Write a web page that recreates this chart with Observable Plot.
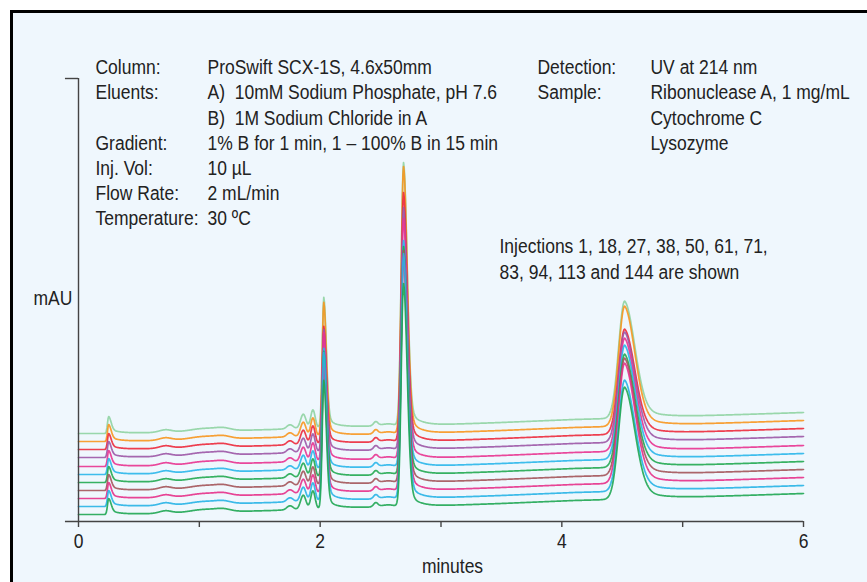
<!DOCTYPE html>
<html><head><meta charset="utf-8">
<script src="https://cdn.jsdelivr.net/npm/d3@7"></script>
<script src="https://cdn.jsdelivr.net/npm/@observablehq/plot@0.6"></script>
<style>
html,body{margin:0;padding:0;background:#fff;}
#wrap{position:relative;width:867px;height:582px;overflow:hidden;}
#panel{position:absolute;left:10px;top:10px;right:-10px;bottom:-10px;border-top:3px solid #000;border-left:3px solid #000;background:#eff7fd;}
#chart{position:absolute;left:0;top:0;}
</style></head><body>
<div id="wrap"><div id="panel"></div><div id="chart"></div></div>
<script>
// ---------- data ----------
// stacked traces, index 0 = lowest trace
const traceColors  = ["#1fa653","#27b2e6","#e6308a","#a3545a","#22a851","#2ab6ea","#e83390","#9c57a6","#ec2a3c","#f7961f","#8fd3a2"];
const traceOffsets = [7, 15, 23, 31, 39, 47, 55, 64, 72, 80, 88];          // mAU at t = 0
// baseline drift (shared) : minutes -> mAU
const driftTimes  = [0, 0.3, 1.0, 1.6, 2.2, 2.8, 3.5, 4.1, 5.0, 6.0];
const driftValues = [0, 0,   2,   4,   7,   8,   11,  14,  17,  21];
// main peaks: void, Ribonuclease A, Cytochrome C, Lysozyme
const peakNames  = ["void", "Ribonuclease A", "Cytochrome C", "Lysozyme"];
const peakTimes  = [0.25, 2.03, 2.69, 4.52];
const peakSigmaL = [0.010, 0.013, 0.019, 0.05];
const peakSigmaR = [0.020, 0.021, 0.030, 0.085];
const peakTail   = [0.30, 0.12, 0.10, 0.15];
const peakTau    = [0.08, 0.06, 0.08, 0.16];
const voidHeights      = [16, 16, 16, 16, 16, 16, 16, 16, 16, 17, 17];
const ribonucleaseHts  = [128, 148, 125, 122, 125, 120, 128, 122, 117, 133, 130];
const cytochromeHts    = [223, 245, 235, 232, 228, 226, 240, 242, 249, 267, 263];
const lysozymeHts      = [112, 111, 120, 117, 113, 114, 113, 110, 105, 120, 117];
// minor features (shared by all traces)
const minorTimes   = [0.72, 1.05, 1.20, 1.75, 1.86, 1.94, 2.46, 2.56];
const minorSigmas  = [0.05, 0.12, 0.06, 0.025, 0.022, 0.018, 0.018, 0.06];
const minorHeights = [2.5, 3, 2, 4, 14, 18, 4, 2];
// axis
const xTicks = [0, 1, 2, 3, 4, 5, 6];
// text
const leftLabels  = ["Column:", "Eluents:", "", "Gradient:", "Inj. Vol:", "Flow Rate:", "Temperature:"];
const leftValues  = ["ProSwift SCX-1S, 4.6x50mm", "A)  10mM Sodium Phosphate, pH 7.6", "B)  1M Sodium Chloride in A", "1% B for 1 min, 1 – 100% B in 15 min", "10 µL", "2 mL/min", "30 ºC"];
const rightLabels = ["Detection:", "Sample:"];
const rightValues = ["UV at 214 nm", "Ribonuclease A, 1 mg/mL", "Cytochrome C", "Lysozyme"];
const noteLines   = ["Injections 1, 18, 27, 38, 50, 61, 71,", "83, 94, 113 and 144 are shown"];

// ---------- build ----------
const heightsByPeak = [voidHeights, ribonucleaseHts, cytochromeHts, lysozymeHts];
function drift(t){
  for (let k=1;k<driftTimes.length;k++){
    if (t<=driftTimes[k]){const a=driftTimes[k-1],b=driftTimes[k];return driftValues[k-1]+(driftValues[k]-driftValues[k-1])*(t-a)/(b-a);}
  }
  return driftValues[driftValues.length-1];
}
function peakShape(t,p){
  const t0=peakTimes[p], d=t-t0;
  if (d<0) return Math.exp(-0.5*(d/peakSigmaL[p])**2);
  const f=peakTail[p];
  return (1-f)*Math.exp(-0.5*(d/peakSigmaR[p])**2)+f*Math.exp(-d/peakTau[p]);
}
const rows=[];
for (let i=traceColors.length-1;i>=0;i--){
  for (let s=0;s<=1200;s++){
    const t=s*0.005;
    let v=traceOffsets[i]+drift(t);
    for (let p=0;p<peakTimes.length;p++) v+=heightsByPeak[p][i]*peakShape(t,p);
    for (let m=0;m<minorTimes.length;m++) v+=minorHeights[m]*Math.exp(-0.5*((t-minorTimes[m])/minorSigmas[m])**2);
    rows.push({trace:i,color:traceColors[i],t,v});
  }
}

function hasFont(name){
  const c=document.createElement("canvas").getContext("2d");
  const s="abcdefghij MMM WWW 0123";
  c.font="40px monospace"; const w0=c.measureText(s).width;
  c.font=`40px '${name}', monospace`; const w1=c.measureText(s).width;
  return Math.abs(w0-w1)>0.5;
}
const narrow=hasFont("Liberation Sans Narrow");
const FONT=narrow?"'Liberation Sans Narrow', 'Liberation Sans', sans-serif":"'Liberation Sans', Arial, sans-serif";
const FS=21;
const SQUEEZE=narrow?1:0.833;
const TXT="#222";

const ML=78, MR=64, MT=78, MB=61;
function label(text,px,py,anchor="start"){
  return Plot.text([text],{frameAnchor:"top-left",dx:px-ML,dy:py-MT,text:d=>d,textAnchor:anchor,lineAnchor:"middle",fontSize:FS,fill:TXT});
}
const textMarks=[];
leftLabels.forEach((s,i)=>{ if(s) textMarks.push(label(s,95,67+25.17*i)); });
leftValues.forEach((s,i)=>textMarks.push(label(s,207,67+25.17*i)));
rightLabels.forEach((s,i)=>textMarks.push(label(s,537,67+25.17*i)));
rightValues.forEach((s,i)=>textMarks.push(label(s,650,67+25.17*i)));
noteLines.forEach((s,i)=>textMarks.push(label(s,499,246+26*i)));
textMarks.push(label("mAU",33,298));
textMarks.push(label("minutes",452,566,"middle"));

const chart=Plot.plot({
  width:867,height:582,
  marginLeft:ML,marginRight:MR,marginTop:MT,marginBottom:MB,
  style:{background:"transparent",fontFamily:FONT,fontSize:FS+"px",color:"#333",overflow:"visible"},
  x:{domain:[0,6]},
  y:{domain:[0,443],axis:null},
  color:{type:"identity"},
  marks:[
    Plot.line(rows,{x:"t",y:"v",z:"trace",stroke:"color",strokeWidth:1.7,strokeOpacity:0.9,curve:"linear"}),
    Plot.axisX({ticks:xTicks,tickFormat:d=>d%2===0?String(d):"",tickSize:6,tickPadding:6,fontSize:FS,label:null,stroke:"#444",strokeWidth:1.4,fill:TXT}),
    Plot.ruleY([0],{x1:-0.108,x2:6,stroke:"#444",strokeWidth:1.6}),
    Plot.ruleX([0],{y1:0,y2:443,stroke:"#444",strokeWidth:1.4}),
    Plot.ruleY([443],{x1:-0.108,x2:0,stroke:"#444",strokeWidth:1.4}),
    ...textMarks
  ]
});
// condense glyphs horizontally around each text's own anchor point
if (SQUEEZE!==1){
  chart.querySelectorAll("text").forEach(el=>{
    const tr=el.getAttribute("transform")||"";
    const x=+(el.getAttribute("x")||0);
    if (x) el.setAttribute("x", x/SQUEEZE);
    el.setAttribute("transform",(tr+` scale(${SQUEEZE},1)`).trim());
  });
}
document.getElementById("chart").appendChild(chart);
</script>
</body></html>
